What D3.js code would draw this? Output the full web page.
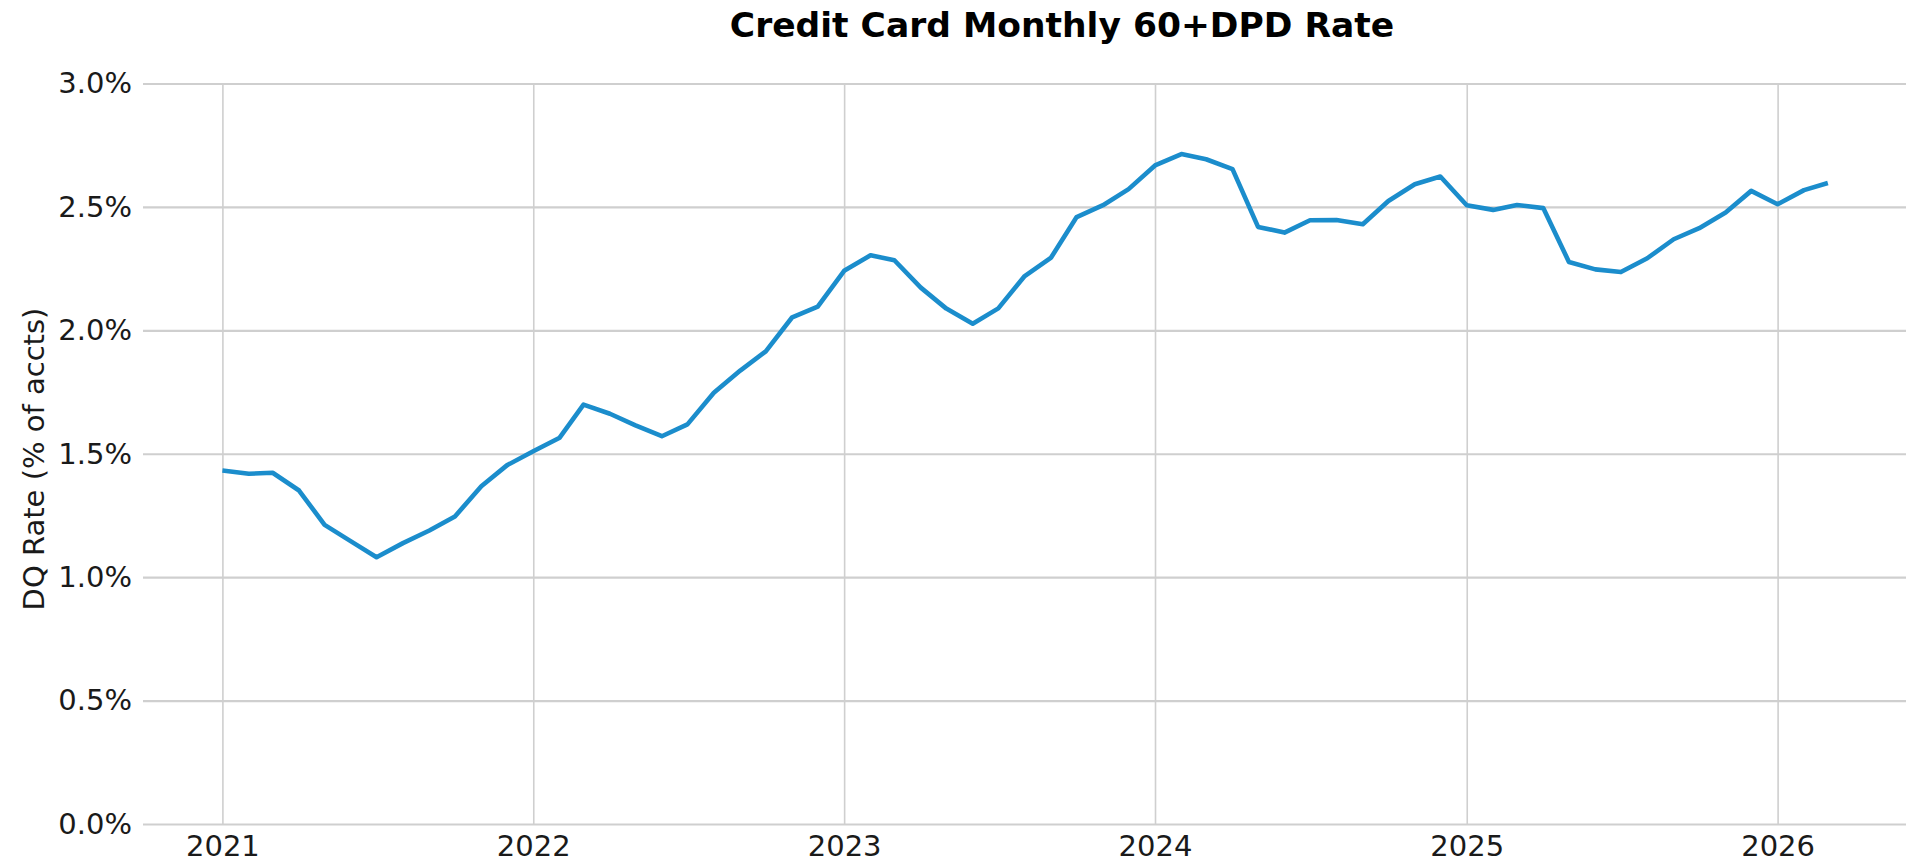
<!DOCTYPE html>
<html lang="en">
<head>
    <meta charset="UTF-8">
    <title>Credit Card Monthly 60+DPD Rate</title>
    <script src="https://d3js.org/d3.v7.min.js"></script>
    <style>
        html, body { margin: 0; padding: 0; background: #fff; }
        svg { display: block; font-family: "DejaVu Sans", sans-serif; }
    </style>
</head>
<body>
    <div id="chart"></div>

    <script>
        const width = 1906;
        const height = 864;

        // monthly data, Jan 2021 .. Mar 2026
        const startMonth = [2021, 0];
        const dqRate = [
            1.432, 1.419, 1.423, 1.351, 1.212, 1.145, 1.081, 1.138, 1.189, 1.246, 1.368, 1.453,
            1.510, 1.565, 1.699, 1.662, 1.615, 1.571, 1.619, 1.747, 1.837, 1.915, 2.053, 2.096,
            2.241, 2.304, 2.284, 2.173, 2.088, 2.027, 2.089, 2.220, 2.295, 2.459, 2.507, 2.572,
            2.668, 2.714, 2.693, 2.653, 2.419, 2.396, 2.446, 2.447, 2.430, 2.524, 2.592, 2.623,
            2.507, 2.488, 2.508, 2.495, 2.277, 2.247, 2.236, 2.292, 2.369, 2.414, 2.477, 2.565,
            2.511, 2.568, 2.597
        ];
        const yearTicks = [2021, 2022, 2023, 2024, 2025, 2026];
        const yTicks = [0, 0.5, 1.0, 1.5, 2.0, 2.5, 3.0];

        const data = dqRate.map((v, i) => ({
            date: new Date(startMonth[0], startMonth[1] + i, 1),
            value: v
        }));

        const plotLeft = 143, plotRight = 1906, plotTop = 83.5, plotBottom = 824;

        // year gridlines sit at 222.4 (2021) and 1777.6 (2026)
        const base = d3.scaleTime()
            .domain([new Date(2021, 0, 1), new Date(2026, 0, 1)])
            .range([222.4, 1777.6]);
        const x = d3.scaleTime()
            .domain([base.invert(plotLeft), base.invert(plotRight)])
            .range([plotLeft, plotRight]);

        const y = d3.scaleLinear()
            .domain([0, 3])
            .range([plotBottom, plotTop]);

        const svg = d3.select("#chart")
            .append("svg")
            .attr("width", width)
            .attr("height", height);

        // horizontal grid + y labels
        const yAxis = svg.append("g")
            .attr("transform", `translate(${plotLeft},0)`)
            .call(d3.axisLeft(y)
                .tickValues(yTicks)
                .tickSize(-(plotRight - plotLeft))
                .tickPadding(11)
                .tickFormat(d => d3.format(".1f")(d) + "%"));
        yAxis.select(".domain").remove();
        yAxis.selectAll(".tick line")
            .attr("stroke", "#cfcfcf")
            .attr("stroke-width", 2.2);
        yAxis.selectAll(".tick text")
            .attr("font-size", "29px")
            .attr("font-family", "DejaVu Sans")
            .attr("fill", "#1a1a1a");

        // vertical grid + year labels
        const xAxis = svg.append("g")
            .attr("transform", `translate(0,${plotBottom})`)
            .call(d3.axisBottom(x)
                .tickValues(yearTicks.map(yr => new Date(yr, 0, 1)))
                .tickSize(-(plotBottom - plotTop))
                .tickPadding(11)
                .tickFormat(d3.timeFormat("%Y")));
        xAxis.select(".domain").remove();
        xAxis.selectAll(".tick line")
            .attr("stroke", "#cfcfcf")
            .attr("stroke-width", 1.6);
        xAxis.selectAll(".tick text")
            .attr("font-size", "29px")
            .attr("font-family", "DejaVu Sans")
            .attr("fill", "#1a1a1a");

        // the line
        const line = d3.line()
            .x(d => x(d.date))
            .y(d => y(d.value));

        svg.append("path")
            .datum(data)
            .attr("d", line)
            .attr("fill", "none")
            .attr("stroke", "#1b8dcc")
            .attr("stroke-width", 4.6)
            .attr("stroke-linejoin", "round");

        // title
        svg.append("text")
            .attr("x", 1062)
            .attr("y", 37)
            .attr("text-anchor", "middle")
            .attr("font-size", "34.5px")
            .attr("font-weight", "bold")
            .attr("fill", "#000")
            .text("Credit Card Monthly 60+DPD Rate");

        // y label
        svg.append("text")
            .attr("transform", "translate(44,459) rotate(-90)")
            .attr("text-anchor", "middle")
            .attr("font-size", "29px")
            .attr("fill", "#1a1a1a")
            .text("DQ Rate (% of accts)");
    </script>
</body>
</html>
